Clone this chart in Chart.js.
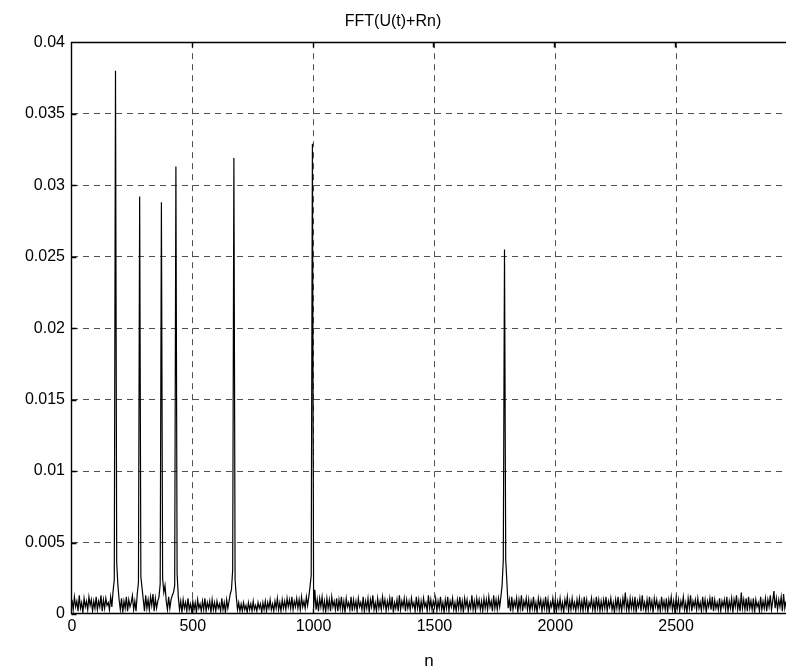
<!DOCTYPE html>
<html>
<head>
<meta charset="utf-8">
<title>FFT(U(t)+Rn)</title>
<script src="https://cdn.jsdelivr.net/npm/chart.js@4.4.0/dist/chart.umd.min.js"></script>
<style>
  html, body { margin: 0; padding: 0; background: #fff; }
  #myCanvas { display: block; }
</style>
</head>
<body>
<canvas id="myCanvas" width="786" height="670"></canvas>
<script>
// |FFT|, in units of 1e-4, one value every binStep bins
const binStep = 5;
const fftMag = [
    10,3,12,5,9,2,13,4,8,1,11,5,9,3,12,6,10,2,9,4,
    12,3,9,5,13,2,10,4,11,6,8,3,12,5,16,24,380,36,20,10,
    3,11,1,9,4,12,2,10,5,8,13,3,9,2,14,22,292,26,18,10,
    2,13,4,10,3,12,6,14,2,11,4,9,12,21,288,25,15,20,9,3,
    12,4,10,13,15,20,313,28,12,3,9,1,10,4,8,2,11,3,7,2,
    9,3,8,1,10,4,7,2,9,3,11,2,8,4,9,1,10,3,8,2,
    9,4,7,2,11,3,8,1,10,4,9,14,17,31,319,24,12,3,8,2,
    7,2,8,3,6,1,8,3,7,2,9,3,6,2,8,4,7,1,8,3,
    9,2,8,4,10,3,7,2,9,4,11,3,8,2,10,4,9,3,11,5,
    10,4,12,3,9,5,11,4,10,3,12,5,9,4,12,6,12,19,27,329,
    4,17,3,10,2,11,5,12,3,9,1,11,4,10,2,12,5,9,3,11,
    2,10,4,12,3,9,1,11,5,8,3,12,2,10,4,9,2,11,5,8,
    3,12,2,9,4,11,1,10,5,13,3,8,2,11,4,9,3,12,5,10,
    2,9,4,11,3,12,1,8,4,10,2,13,3,9,5,11,2,10,4,9,
    3,11,5,8,2,12,4,10,1,9,3,11,5,8,2,13,4,10,3,9,
    5,11,2,9,4,12,3,8,1,10,4,12,2,9,5,11,3,8,2,10,
    4,12,3,9,1,11,5,10,2,8,4,13,3,9,2,11,5,10,3,9,
    2,11,4,10,3,12,5,9,2,13,4,10,3,11,5,12,20,38,255,38,
    22,4,10,2,12,3,9,5,11,1,10,4,13,2,9,5,11,3,10,2,
    9,4,12,3,8,1,11,5,10,2,9,4,12,3,10,1,8,5,11,3,
    10,2,9,4,11,3,8,1,10,5,12,2,9,3,11,4,8,2,10,4,
    11,3,9,2,12,4,10,1,8,5,11,3,9,2,12,4,10,2,9,3,
    10,4,12,2,9,5,11,3,8,1,10,4,12,3,9,2,11,5,15,3,
    9,2,11,4,10,3,12,1,9,5,11,2,13,4,8,2,10,3,12,4,
    9,1,11,5,10,3,8,2,12,4,9,3,11,1,10,5,12,3,9,2,
    11,4,10,2,9,5,12,3,8,1,11,4,13,2,9,5,10,3,11,4,
    8,2,12,4,10,1,9,5,11,3,12,2,10,4,8,3,11,2,9,5,
    10,3,12,2,9,4,11,1,10,5,13,3,9,2,15,4,10,3,11,2,
    12,4,9,3,11,1,10,5,8,2,12,3,9,4,11,2,10,5,13,3,
    9,16,4,11,3,10,5,12,2,14,4,9
];
const xMax = 2955;
const xTicks = [0, 500, 1000, 1500, 2000, 2500];
const yTicks = [0, 0.005, 0.01, 0.015, 0.02, 0.025, 0.03, 0.035, 0.04];
const yTickLabels = ['0', '0.005', '0.01', '0.015', '0.02', '0.025', '0.03', '0.035', '0.04'];

const points = fftMag.map((v, i) => ({ x: i * binStep, y: v / 10000 }));

const font = { family: "'Liberation Sans', Arial, sans-serif", size: 16 };
const gridColor = '#505050';

// matlab style box: solid top/left/bottom edges and small inward ticks
const frame = {
    id: 'frame',
    afterDraw(chart) {
        const { ctx, chartArea: a, scales: { x, y } } = chart;
        const L = Math.round(a.left) - 0.5, T = Math.round(a.top) + 0.5, B = Math.round(a.bottom) - 0.5;
        ctx.save();
        ctx.setLineDash([]);
        ctx.strokeStyle = '#000';
        ctx.lineWidth = 1.4;
        ctx.beginPath();
        ctx.moveTo(a.right, T); ctx.lineTo(L, T); ctx.lineTo(L, B); ctx.lineTo(a.right, B);
        xTicks.forEach(v => {
            const px = Math.round(x.getPixelForValue(v)) - 0.5;
            ctx.moveTo(px, B); ctx.lineTo(px, B - 5);
            ctx.moveTo(px, T); ctx.lineTo(px, T + 5);
        });
        yTicks.forEach(v => {
            const py = Math.round(y.getPixelForValue(v)) + 0.5;
            ctx.moveTo(L, py); ctx.lineTo(L + 5, py);
        });
        ctx.stroke();
        ctx.restore();
    }
};

// no dashed grid line where the solid box edge is drawn
const edgeFree = (c, lo, hi) => (c.tick && (c.tick.value === lo || c.tick.value === hi)) ? 'rgba(0,0,0,0)' : gridColor;

const config = {
    type: 'line',
    data: {
        datasets: [{
            data: points,
            borderColor: '#000',
            borderWidth: 1.2,
            pointRadius: 0,
            tension: 0,
            fill: false
        }]
    },
    options: {
        responsive: false,
        animation: false,
        events: [],
        layout: { padding: 0 },
        plugins: {
            legend: { display: false },
            tooltip: { enabled: false },
            title: {
                display: true,
                text: 'FFT(U(t)+Rn)',
                color: '#000',
                font: { family: font.family, size: 16, weight: 'normal', lineHeight: 1.2 },
                padding: { top: 12, bottom: 11 }
            }
        },
        scales: {
            x: {
                type: 'linear',
                min: 0,
                max: xMax,
                afterBuildTicks: s => { s.ticks = xTicks.map(v => ({ value: v })); },
                afterFit: s => { s.height = 56; },
                ticks: { color: '#000', font: font, padding: 3, maxRotation: 0, callback: v => String(v) },
                grid: { color: c => edgeFree(c, 0, -1), lineWidth: 1, drawTicks: false },
                border: { display: false, dash: [6, 5] },
                title: { display: true, text: 'n', color: '#000', font: { family: font.family, size: 17, lineHeight: 1 }, padding: { top: 0, bottom: 0 } }
            },
            y: {
                type: 'linear',
                min: 0,
                max: 0.04,
                afterBuildTicks: s => { s.ticks = yTicks.map(v => ({ value: v })); },
                afterFit: s => { s.width = 72; },
                ticks: { color: '#000', font: font, padding: 7, callback: (v, i) => yTickLabels[i] },
                grid: { color: c => edgeFree(c, 0, 0.04), lineWidth: 1, drawTicks: false },
                border: { display: false, dash: [6, 5] }
            }
        }
    },
    plugins: [frame]
};

const myChart = new Chart(document.getElementById('myCanvas'), config);
</script>
</body>
</html>
